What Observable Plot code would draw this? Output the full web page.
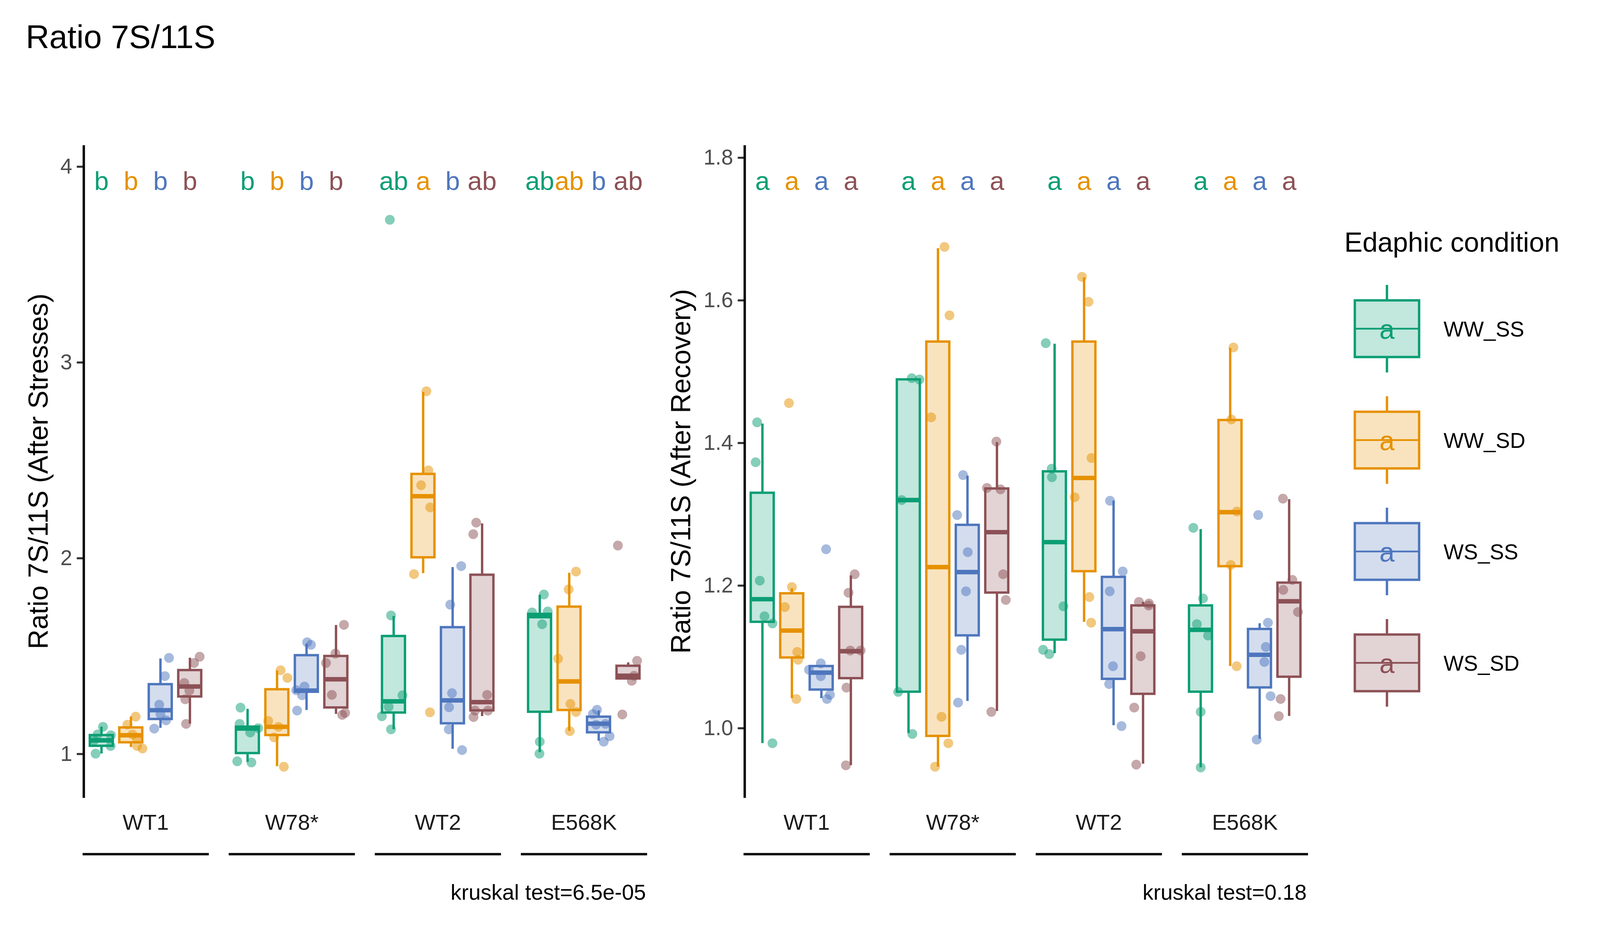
<!DOCTYPE html>
<html><head><meta charset="utf-8">
<script src="https://cdn.jsdelivr.net/npm/d3@7"></script>
<script src="https://cdn.jsdelivr.net/npm/@observablehq/plot@0.6"></script>
<style>
html,body{margin:0;padding:0;background:#fff;overflow:hidden;}
#root{position:relative;overflow:hidden;background:#fff;}
#root > svg{position:absolute;}
</style></head><body><div id="root"></div>
<script>
const FONT = '"Liberation Sans", Arial, sans-serif';
const genotypes = ["WT1", "W78*", "WT2", "E568K"];
const conditions = ["WW_SS", "WW_SD", "WS_SS", "WS_SD"];
const colors = ["#0B9E74", "#E69100", "#4E76BD", "#8C5156"];

// ---- After Stresses (order: genotype-major, condition-minor) ----
const stressLo  = [1.002, 1.035, 1.133, 1.154,  0.959, 0.937, 1.224, 1.204,  1.126, 1.923, 1.026, 1.193,  1.009, 1.117, 1.067, 1.385];
const stressQ1  = [1.041, 1.059, 1.178, 1.293,  1.004, 1.096, 1.317, 1.237,  1.211, 2.004, 1.156, 1.222,  1.215, 1.224, 1.110, 1.385];
const stressMed = [1.070, 1.096, 1.224, 1.345,  1.130, 1.139, 1.324, 1.382,  1.269, 2.317, 1.274, 1.265,  1.704, 1.371, 1.155, 1.400];
const stressQ3  = [1.096, 1.135, 1.356, 1.428,  1.139, 1.330, 1.504, 1.500,  1.602, 2.430, 1.647, 1.915,  1.715, 1.752, 1.190, 1.450];
const stressHi  = [1.139, 1.191, 1.487, 1.491,  1.230, 1.426, 1.563, 1.658,  1.704, 2.849, 1.954, 2.177,  1.813, 1.925, 1.222, 1.467];
const stressLetters = ["b","b","b","b",  "b","b","b","b",  "ab","a","b","ab",  "ab","ab","b","ab"];
const stressPointValues = [
  [1.139, 1.100, 1.096, 1.070, 1.041, 1.002], [1.191, 1.150, 1.100, 1.080, 1.041, 1.028],
  [1.491, 1.398, 1.252, 1.204, 1.172, 1.130], [1.497, 1.465, 1.363, 1.324, 1.280, 1.154],
  [1.237, 1.154, 1.132, 1.110, 0.963, 0.957], [1.428, 1.389, 1.169, 1.139, 1.085, 0.935],
  [1.571, 1.558, 1.345, 1.326, 1.300, 1.222], [1.660, 1.513, 1.465, 1.302, 1.210, 1.200],
  [3.729, 1.708, 1.300, 1.241, 1.193, 1.126], [2.853, 2.449, 2.373, 2.260, 1.919, 1.213],
  [1.960, 1.763, 1.311, 1.239, 1.126, 1.020], [2.182, 2.123, 1.302, 1.222, 1.222, 1.189],
  [1.815, 1.723, 1.728, 1.663, 1.063, 1.002], [1.932, 1.841, 1.487, 1.256, 1.215, 1.117],
  [1.226, 1.204, 1.150, 1.154, 1.091, 1.063], [2.065, 1.476, 1.400, 1.374, 1.202]
];
const stressPointJitter = [
  [0.05, -0.13, 0.32, -0.25, 0.31, -0.20], [0.16, -0.12, 0.05, 0.20, 0.21, 0.39],
  [0.29, 0.15, -0.04, 0.00, 0.19, -0.21], [0.33, 0.14, -0.19, -0.02, -0.16, -0.13],
  [-0.24, -0.27, 0.36, 0.09, -0.35, 0.13], [0.12, 0.35, -0.30, 0.05, -0.10, 0.23],
  [0.02, 0.15, -0.07, -0.35, -0.15, -0.32], [0.27, -0.02, -0.34, -0.14, 0.31, 0.21],
  [-0.13, -0.09, 0.30, -0.17, -0.40, -0.09], [0.11, 0.18, -0.07, 0.24, -0.31, 0.23],
  [0.29, -0.08, -0.02, -0.12, -0.13, 0.32], [-0.20, -0.30, 0.17, -0.24, 0.20, -0.29],
  [0.14, -0.26, 0.27, 0.08, 0.00, -0.01], [0.23, -0.02, -0.38, 0.04, 0.23, 0.02],
  [-0.06, -0.20, -0.09, 0.23, 0.37, 0.17], [-0.35, 0.30, 0.20, 0.12, -0.20]
];

// ---- After Recovery ----
const recovLo  = [0.979, 1.042, 1.042, 0.948,  0.993, 0.946, 1.038, 1.024,  1.105, 1.149, 1.004, 0.950,  0.945, 1.087, 0.985, 1.017];
const recovQ1  = [1.149, 1.099, 1.054, 1.070,  1.051, 0.989, 1.130, 1.190,  1.124, 1.220, 1.069, 1.048,  1.051, 1.227, 1.057, 1.072];
const recovMed = [1.181, 1.137, 1.078, 1.108,  1.320, 1.226, 1.219, 1.275,  1.261, 1.351, 1.139, 1.136,  1.138, 1.303, 1.103, 1.178];
const recovQ3  = [1.330, 1.189, 1.087, 1.170,  1.489, 1.542, 1.285, 1.336,  1.360, 1.542, 1.212, 1.172,  1.172, 1.432, 1.139, 1.204];
const recovHi  = [1.427, 1.196, 1.087, 1.214,  1.489, 1.673, 1.354, 1.401,  1.539, 1.632, 1.319, 1.177,  1.279, 1.533, 1.147, 1.321];
const recovLetters = ["a","a","a","a",  "a","a","a","a",  "a","a","a","a",  "a","a","a","a"];
const recovPointValues = [
  [1.429, 1.373, 1.207, 1.157, 1.147, 0.979], [1.456, 1.198, 1.170, 1.107, 1.096, 1.041],
  [1.251, 1.091, 1.082, 1.073, 1.041, 1.047], [1.216, 1.190, 1.109, 1.109, 1.057, 0.948],
  [1.491, 1.489, 1.320, 1.051, 0.992], [1.675, 1.579, 1.436, 1.016, 0.979, 0.946],
  [1.355, 1.299, 1.247, 1.192, 1.110, 1.036], [1.402, 1.337, 1.335, 1.216, 1.180, 1.023],
  [1.540, 1.364, 1.352, 1.171, 1.110, 1.104], [1.633, 1.598, 1.379, 1.324, 1.184, 1.148],
  [1.319, 1.220, 1.192, 1.087, 1.062, 1.003], [1.177, 1.172, 1.175, 1.101, 1.029, 0.949],
  [1.281, 1.182, 1.146, 1.130, 1.023, 0.945], [1.534, 1.433, 1.304, 1.229, 1.087],
  [1.299, 1.148, 1.114, 1.093, 1.045, 0.984], [1.322, 1.208, 1.194, 1.163, 1.041, 1.017]
];
const recovPointJitter = [
  [-0.18, -0.23, -0.09, 0.07, 0.34, 0.34], [-0.10, 0.00, -0.24, 0.18, 0.21, 0.15],
  [0.16, -0.02, -0.42, -0.02, 0.19, 0.29], [0.13, -0.08, -0.02, 0.33, -0.15, -0.17],
  [0.11, 0.37, -0.23, -0.35, 0.13], [0.22, 0.39, -0.23, 0.12, 0.35, -0.10],
  [-0.15, -0.35, 0.01, -0.05, -0.21, -0.32], [-0.02, -0.34, 0.12, 0.21, 0.30, -0.19],
  [-0.30, -0.10, -0.09, 0.30, -0.39, -0.18], [-0.07, 0.15, 0.25, -0.32, 0.18, 0.24],
  [-0.12, 0.31, -0.13, -0.02, -0.15, 0.27], [-0.14, 0.19, 0.20, -0.08, -0.30, -0.23],
  [-0.25, 0.08, -0.13, 0.25, 0.00, 0.00], [0.11, 0.04, 0.23, 0.02, 0.22],
  [-0.05, 0.28, 0.21, 0.16, 0.37, -0.10], [-0.21, 0.11, -0.20, 0.30, -0.29, -0.35]
];

const stressTicks = [1, 2, 3, 4];
const recovTicks = [1.0, 1.2, 1.4, 1.6, 1.8];

// layout designed on a 5400x2400 canvas, mapped proportionally onto the real viewport
const VW = window.innerWidth || 5400, VH = window.innerHeight || 2400;
const sx = VW / 5400, sy = VH / 2400, k = Math.min(sx, sy);
const X = v => v * sx, Y = v => v * sy, F = v => v * k;

function makeBoxes(lo, q1, med, q3, hi, letters) {
  return lo.map((_, i) => ({
    g: genotypes[Math.floor(i / 4)], c: conditions[i % 4], ci: i % 4,
    lo: lo[i], q1: q1[i], med: med[i], q3: q3[i], hi: hi[i], letter: letters[i]
  }));
}
function makePoints(values, jitter) {
  const out = [];
  values.forEach((arr, i) => arr.forEach((v, j) => out.push({
    g: genotypes[Math.floor(i / 4)], c: conditions[i % 4], ci: i % 4, v, j: jitter[i][j]
  })));
  return out;
}

const HW = 0.39; // half box width in category units
function panel(cfg) {
  const boxes = cfg.boxes, pts = cfg.points;
  return Plot.plot({
    width: X(cfg.width), height: Y(2240),
    marginTop: Y(374), marginBottom: Y(202), marginLeft: X(cfg.marginLeft), marginRight: X(cfg.marginRight),
    style: {fontFamily: FONT, background: "transparent", overflow: "visible"},
    fx: {domain: genotypes, paddingInner: 0.152, paddingOuter: 0, label: null},
    x: {domain: [-0.6, 3.6], axis: null},
    y: {domain: cfg.domain},
    color: {domain: conditions, range: colors},
    marks: [
      Plot.axisFx({anchor: "bottom", tickSize: 0, tickPadding: Y(45), fontSize: F(74), label: null, fill: "#1a1a1a"}),
      Plot.axisY({ticks: cfg.ticks, tickFormat: cfg.fmt, tickSize: X(23), tickPadding: X(16), fontSize: F(72),
                  fill: "#4d4d4d", stroke: "#333", strokeWidth: F(7), label: null}),
      Plot.frame({anchor: "left", facetAnchor: "left", stroke: "black", strokeWidth: F(8)}),
      Plot.frame({anchor: "bottom", dy: Y(147), stroke: "black", strokeWidth: F(8)}),
      Plot.ruleX(boxes, {fx: "g", x: "ci", y1: "lo", y2: "q1", stroke: "c", strokeWidth: F(8)}),
      Plot.ruleX(boxes, {fx: "g", x: "ci", y1: "q3", y2: "hi", stroke: "c", strokeWidth: F(8)}),
      Plot.rect(boxes, {fx: "g", x1: d => d.ci - HW, x2: d => d.ci + HW, y1: "q1", y2: "q3",
                        fill: "c", fillOpacity: 0.25, stroke: "c", strokeWidth: F(8)}),
      Plot.ruleY(boxes, {fx: "g", x1: d => d.ci - HW, x2: d => d.ci + HW, y: "med", stroke: "c", strokeWidth: F(15)}),
      Plot.dot(pts, {fx: "g", x: d => d.ci + d.j, y: "v", r: F(16.5), fill: "c", fillOpacity: 0.5, stroke: null}),
      Plot.text(boxes, {fx: "g", x: "ci", y: () => cfg.letterY, text: "letter", fill: "c",
                        fontSize: F(88), lineAnchor: "bottom"})
    ]
  });
}

const root = document.getElementById("root");
root.style.width = VW + "px";
root.style.height = VH + "px";

const left = panel({
  boxes: makeBoxes(stressLo, stressQ1, stressMed, stressQ3, stressHi, stressLetters),
  points: makePoints(stressPointValues, stressPointJitter),
  width: 2200, marginLeft: 281, marginRight: 20,
  domain: [0.782, 4.104], ticks: stressTicks, fmt: d3.format("d"), letterY: 3.881
});
left.style.left = "0px"; left.style.top = "0px";
root.appendChild(left);

const right = panel({
  boxes: makeBoxes(recovLo, recovQ1, recovMed, recovQ3, recovHi, recovLetters),
  points: makePoints(recovPointValues, recovPointJitter),
  width: 2240, marginLeft: 322, marginRight: 20,
  domain: [0.904, 1.816], ticks: recovTicks, fmt: d3.format(".1f"), letterY: 1.755
});
right.style.left = X(2190) + "px"; right.style.top = "0px";
root.appendChild(right);

// ---- overlay: title, axis titles, captions, legend ----
const ov = d3.select(root).append("svg")
  .attr("width", VW).attr("height", VH)
  .style("left", "0px").style("top", "0px").style("pointer-events", "none")
  .attr("font-family", FONT);

ov.append("text").attr("x", X(87)).attr("y", Y(123)).attr("font-size", F(110)).attr("fill", "black").text("Ratio 7S/11S");
ov.append("text").attr("transform", `translate(${X(161)},${Y(1206)}) rotate(-90)`).attr("text-anchor", "middle")
  .attr("font-size", F(92)).attr("fill", "black").text("Ratio 7S/11S (After Stresses)");
ov.append("text").attr("transform", `translate(${X(2330)},${Y(1206)}) rotate(-90)`).attr("text-anchor", "middle")
  .attr("font-size", F(92)).attr("fill", "black").text("Ratio 7S/11S (After Recovery)");
ov.append("text").attr("x", X(2180)).attr("y", Y(2302)).attr("text-anchor", "end").attr("font-size", F(73))
  .attr("fill", "black").text("kruskal test=6.5e-05");
ov.append("text").attr("x", X(4410)).attr("y", Y(2302)).attr("text-anchor", "end").attr("font-size", F(73))
  .attr("fill", "black").text("kruskal test=0.18");

// legend
const lg = ov.append("g");
lg.append("text").attr("x", X(4537)).attr("y", Y(644)).attr("font-size", F(92)).attr("fill", "black").text("Edaphic condition");
const keyCx = 4681, keyW = 217, keyH = 145, keyY0 = 841, keyStep = 285;
conditions.forEach((c, i) => {
  const cy = keyY0 + i * keyStep, col = colors[i];
  const g = lg.append("g");
  g.append("line").attr("x1", X(keyCx)).attr("x2", X(keyCx)).attr("y1", Y(cy - 112)).attr("y2", Y(cy + 112))
    .attr("stroke", col).attr("stroke-width", F(8));
  g.append("rect").attr("x", X(keyCx - keyW / 2)).attr("y", Y(cy - keyH / 2)).attr("width", X(keyW)).attr("height", Y(keyH))
    .attr("fill", "white");
  g.append("rect").attr("x", X(keyCx - keyW / 2)).attr("y", Y(cy - keyH / 2)).attr("width", X(keyW)).attr("height", Y(keyH))
    .attr("fill", col).attr("fill-opacity", 0.25).attr("stroke", col).attr("stroke-width", F(8));
  g.append("line").attr("x1", X(keyCx - keyW / 2)).attr("x2", X(keyCx + keyW / 2)).attr("y1", Y(cy)).attr("y2", Y(cy))
    .attr("stroke", col).attr("stroke-width", F(6));
  g.append("text").attr("x", X(keyCx)).attr("y", Y(cy) + F(34)).attr("text-anchor", "middle").attr("font-size", F(92))
    .attr("fill", col).text("a");
  g.append("text").attr("x", X(4872)).attr("y", Y(cy) + F(27)).attr("font-size", F(72)).attr("fill", "black").text(c);
});
</script></body></html>
